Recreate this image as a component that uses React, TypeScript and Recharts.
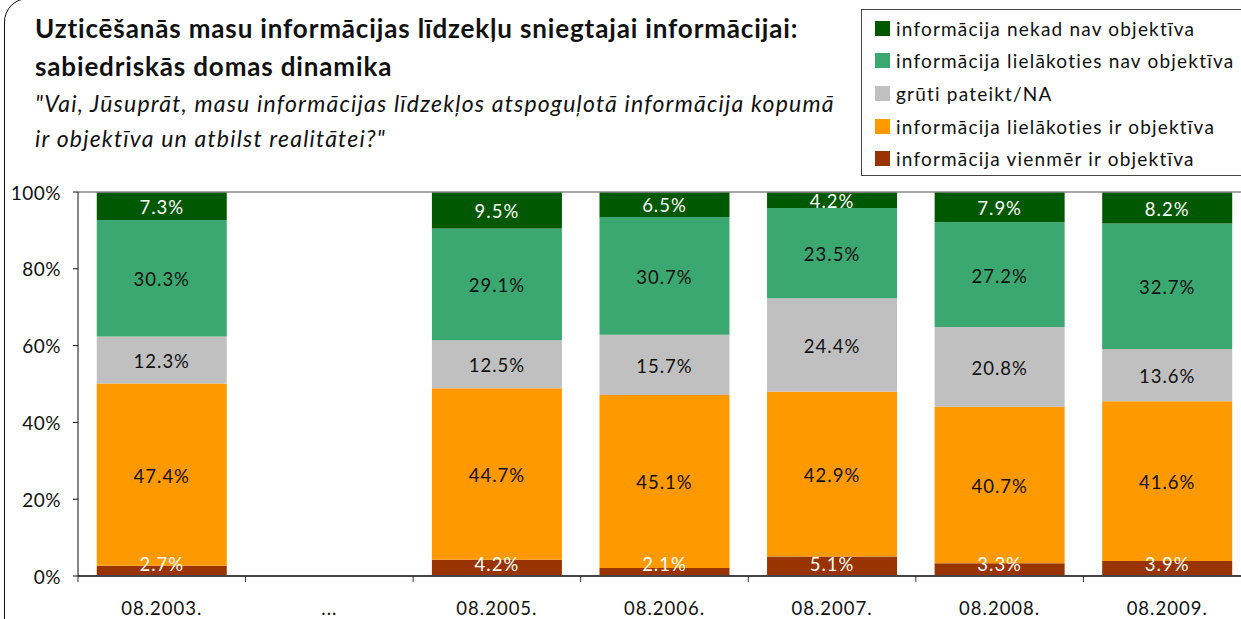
import React from 'react';
import { BarChart, Bar, XAxis, YAxis, LabelList, ReferenceLine } from 'recharts';

const categories = ['08.2003.', '...', '08.2005.', '08.2006.', '08.2007.', '08.2008.', '08.2009.'];
const neverObjective = [7.3, null, 9.5, 6.5, 4.2, 7.9, 8.2];
const mostlyNotObjective = [30.3, null, 29.1, 30.7, 23.5, 27.2, 32.7];
const hardToSay = [12.3, null, 12.5, 15.7, 24.4, 20.8, 13.6];
const mostlyObjective = [47.4, null, 44.7, 45.1, 42.9, 40.7, 41.6];
const alwaysObjective = [2.7, null, 4.2, 2.1, 5.1, 3.3, 3.9];
const yTicks = [0, 0.2, 0.4, 0.6, 0.8, 1];

const seriesKeys = ['never', 'mostlyNot', 'hard', 'mostly', 'always'];
const seriesNames: Record<string, string> = {
  never: 'informācija nekad nav objektīva',
  mostlyNot: 'informācija lielākoties nav objektīva',
  hard: 'grūti pateikt/NA',
  mostly: 'informācija lielākoties ir objektīva',
  always: 'informācija vienmēr ir objektīva',
};
const colors: Record<string, string> = {
  never: '#005800',
  mostlyNot: '#3AA870',
  hard: '#C0C0C0',
  mostly: '#FF9900',
  always: '#993300',
};

const data = categories.map((cat, i) => ({
  cat,
  always: alwaysObjective[i],
  mostly: mostlyObjective[i],
  hard: hardToSay[i],
  mostlyNot: mostlyNotObjective[i],
  never: neverObjective[i],
}));

const FONT = 'Lato, "Noto Sans", sans-serif';
const CHART_W = 1300;
const CHART_H = 619;
const MARGIN = { top: 192, right: 49, bottom: 0, left: 0 };
const X_AXIS_H = 43;
const PLOT_TOP = MARGIN.top;
const PLOT_BOTTOM = CHART_H - MARGIN.bottom - X_AXIS_H;

const makeLabel = (fill: string) => (props: any) => {
  const { x, y, width, height, value } = props;
  if (value === null || value === undefined) return null;
  let cy = y + height / 2 + 1;
  if (cy < PLOT_TOP + 9) cy = PLOT_TOP + 9;
  if (cy > PLOT_BOTTOM - 12) cy = PLOT_BOTTOM - 12;
  return (
    <text
      x={x + width / 2}
      y={cy}
      textAnchor="middle"
      dominantBaseline="central"
      fill={fill}
      fontFamily={FONT}
      fontSize={18.5}
      letterSpacing={1}
    >
      {Number(value).toFixed(1) + '%'}
    </text>
  );
};

const XTick = (props: any) => {
  const { x, y, payload, width, visibleTicksCount } = props;
  const step = width && visibleTicksCount ? width / visibleTicksCount : 0;
  return (
    <g>
      <line x1={x - step / 2} x2={x - step / 2} y1={y} y2={y + 6} stroke="#333" strokeWidth={1} />
      <text x={x} y={y + 32} textAnchor="middle" dominantBaseline="central" fill="#111" fontFamily={FONT} fontSize={18.5} letterSpacing={1}>
        {payload.value}
      </text>
    </g>
  );
};

const YTick = (props: any) => {
  const { x, y, payload } = props;
  return (
    <text x={x} y={y} textAnchor="end" dominantBaseline="central" fill="#111" fontFamily={FONT} fontSize={19} letterSpacing={0.5}>
      {Math.round(payload.value * 100) + '%'}
    </text>
  );
};

const LegendBox = () => (
  <div
    style={{
      position: 'absolute',
      left: 861,
      top: 9,
      border: '1px solid #444',
      width: 420,
      height: 167,
      boxSizing: 'border-box',
      paddingTop: 2,
      paddingLeft: 13,
      fontFamily: FONT,
    }}
  >
    {seriesKeys.map((k) => (
      <div key={k} style={{ display: 'flex', alignItems: 'center', height: 32.6 }}>
        <div style={{ width: 15, height: 15, background: colors[k], marginRight: 6 }} />
        <span style={{ fontSize: 19, color: '#111', letterSpacing: 1.2 }}>{seriesNames[k]}</span>
      </div>
    ))}
  </div>
);

export default function App() {
  return (
    <div style={{ position: 'fixed', left: 0, top: 0, width: 1241, height: 619, overflow: 'hidden', background: '#fff' }}>
      <div
        style={{
          position: 'absolute',
          left: 4,
          top: -2,
          width: 1400,
          height: 800,
          border: '1.5px solid #111',
          borderRadius: 24,
        }}
      />
      <div style={{ position: 'absolute', left: 35, top: 9, fontFamily: FONT, fontWeight: 700, fontSize: 26, letterSpacing: 0.85, lineHeight: '38px', color: '#111' }}>
        <div>Uzticēšanās masu informācijas līdzekļu sniegtajai informācijai:</div>
        <div>sabiedriskās domas dinamika</div>
      </div>
      <div style={{ position: 'absolute', left: 35, top: 86, fontFamily: FONT, fontStyle: 'italic', fontSize: 23, letterSpacing: 1.2, lineHeight: '35px', color: '#111' }}>
        <div>"Vai, Jūsuprāt, masu informācijas līdzekļos atspoguļotā informācija kopumā</div>
        <div>ir objektīva un atbilst realitātei?"</div>
      </div>
      <LegendBox />
      <div style={{ position: 'absolute', left: 0, top: 0 }}>
        <BarChart width={CHART_W} height={CHART_H} data={data} margin={MARGIN} stackOffset="expand" barCategoryGap="11.2%">
          <XAxis
            dataKey="cat"
            height={X_AXIS_H}
            tickLine={false}
            tickSize={0}
            tickMargin={0}
            axisLine={{ stroke: '#444', strokeWidth: 2 }}
            tick={<XTick />}
            interval={0}
          />
          <YAxis
            width={78}
            domain={[0, 1]}
            ticks={yTicks}
            tickSize={5}
            tickMargin={12}
            axisLine={{ stroke: '#111', strokeWidth: 1 }}
            tickLine={{ stroke: '#111' }}
            tick={<YTick />}
          />
          <ReferenceLine y={1} stroke="#888" strokeWidth={1.5} />
          <Bar dataKey="always" name={seriesNames.always} stackId="a" fill={colors.always} isAnimationActive={false}>
            <LabelList dataKey="always" content={makeLabel('#fff')} />
          </Bar>
          <Bar dataKey="mostly" name={seriesNames.mostly} stackId="a" fill={colors.mostly} isAnimationActive={false}>
            <LabelList dataKey="mostly" content={makeLabel('#111')} />
          </Bar>
          <Bar dataKey="hard" name={seriesNames.hard} stackId="a" fill={colors.hard} isAnimationActive={false}>
            <LabelList dataKey="hard" content={makeLabel('#111')} />
          </Bar>
          <Bar dataKey="mostlyNot" name={seriesNames.mostlyNot} stackId="a" fill={colors.mostlyNot} isAnimationActive={false}>
            <LabelList dataKey="mostlyNot" content={makeLabel('#111')} />
          </Bar>
          <Bar dataKey="never" name={seriesNames.never} stackId="a" fill={colors.never} isAnimationActive={false}>
            <LabelList dataKey="never" content={makeLabel('#fff')} />
          </Bar>
        </BarChart>
      </div>
    </div>
  );
}
